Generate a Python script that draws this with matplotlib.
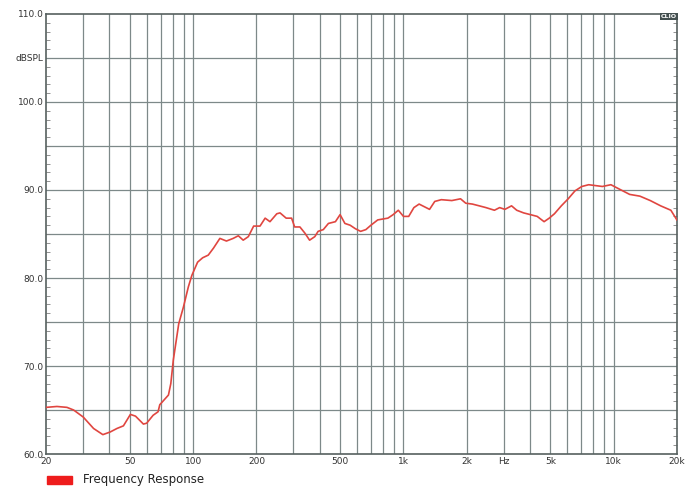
import numpy as np
import matplotlib.pyplot as plt
from matplotlib.patches import Rectangle
from matplotlib.ticker import FixedLocator, NullFormatter, MultipleLocator

# frequency response (Hz, dBSPL)
freq = [20, 22.5, 25.1, 27, 30, 33.6, 37.2, 40.3, 43.4, 46.6, 50.3, 53.2, 58, 60.1,
        64.5, 68.1, 69.4, 76.3, 78.3, 80.5, 85.4, 89.9, 94.9, 98.6, 105, 111, 118,
        125, 134, 144, 155, 164, 173, 183, 194, 208, 220, 232, 250, 259, 277, 294,
        304, 322, 340, 358, 379, 393, 416, 440, 475, 500, 527, 558, 591, 626, 663,
        701, 755, 797, 844, 894, 946, 1001, 1060, 1122, 1188, 1258, 1332, 1410,
        1515, 1700, 1870, 1980, 2130, 2295, 2470, 2710, 2870, 3040, 3270, 3460,
        3730, 4020, 4330, 4670, 4940, 5230, 5640, 6080, 6550, 7060, 7610, 8200,
        8840, 9710, 10260, 11060, 11920, 13340, 14940, 16740, 18720, 20000]
spl = [65.3, 65.4, 65.3, 65.0, 64.2, 62.9, 62.2, 62.5, 62.9, 63.2, 64.5, 64.3, 63.4,
       63.5, 64.4, 64.8, 65.6, 66.7, 68.0, 70.7, 74.8, 76.7, 79.0, 80.3, 81.8, 82.3,
       82.6, 83.4, 84.5, 84.2, 84.5, 84.8, 84.3, 84.7, 85.9, 85.9, 86.8, 86.4, 87.3,
       87.4, 86.8, 86.8, 85.8, 85.8, 85.1, 84.3, 84.7, 85.3, 85.5, 86.2, 86.4, 87.2,
       86.2, 86.0, 85.6, 85.3, 85.5, 86.0, 86.6, 86.7, 86.8, 87.2, 87.7, 87.0, 87.0,
       88.0, 88.4, 88.1, 87.8, 88.7, 88.9, 88.8, 89.0, 88.5, 88.4, 88.2, 88.0, 87.7,
       88.0, 87.8, 88.2, 87.7, 87.4, 87.2, 87.0, 86.4, 86.8, 87.3, 88.2, 89.0, 89.9,
       90.4, 90.6, 90.5, 90.4, 90.6, 90.3, 89.9, 89.5, 89.3, 88.8, 88.2, 87.7, 86.6]

xtick_pos = [20, 50, 100, 200, 500, 1000, 2000, 3000, 5000, 10000, 20000]
xtick_lab = ['20', '50', '100', '200', '500', '1k', '2k', 'Hz', '5k', '10k', '20k']
ytick_pos = [60, 70, 80, 90, 100, 105, 110]
ytick_lab = ['60.0', '70.0', '80.0', '90.0', '100.0', 'dBSPL', '110.0']

grid_col = '#7d8989'

fig = plt.figure(figsize=(7, 5), dpi=100)
ax = fig.add_axes([0.066, 0.092, 0.901, 0.88])

ax.plot(freq, spl, color='#e04640', lw=1.2, zorder=3)

ax.set_xscale('log')
ax.set_xlim(20, 20000)
ax.set_ylim(60, 110)

# vertical grid at every 1..9 step of each decade
vgrid = [m * 10 ** d for d in range(1, 5) for m in range(1, 10) if 20 < m * 10 ** d < 20000]
for v in vgrid:
    ax.axvline(v, color=grid_col, lw=0.9, zorder=1)
for h in range(65, 110, 5):
    ax.axhline(h, color=grid_col, lw=0.9, zorder=1)

ax.xaxis.set_major_locator(FixedLocator(xtick_pos))
ax.set_xticklabels(xtick_lab)
ax.xaxis.set_minor_locator(FixedLocator([]))
ax.xaxis.set_minor_formatter(NullFormatter())
ax.set_yticks(ytick_pos)
ax.set_yticklabels(ytick_lab)
ax.yaxis.set_minor_locator(MultipleLocator(1))

ax.tick_params(axis='x', which='major', length=0, pad=2, labelsize=6.5, labelcolor='#333333')
ax.tick_params(axis='y', which='major', length=0, pad=2, labelsize=6.5, labelcolor='#333333')
ax.tick_params(axis='y', which='minor', direction='in', length=3, width=0.6,
               color='#808080', left=True, right=True)

for s in ax.spines.values():
    s.set_color('#56605f')
    s.set_linewidth(1.2)

ax.text(1.0, 1.0, 'CLIO', transform=ax.transAxes, ha='right', va='top',
        fontsize=4.5, color='white', fontweight='bold',
        bbox=dict(boxstyle='square,pad=0.15', fc='#445050', ec='none'))

fig.add_artist(Rectangle((0.067, 0.032), 0.036, 0.017, transform=fig.transFigure,
                         color='#ee1c1c'))
fig.text(0.118, 0.04, 'Frequency Response', fontsize=8.5, va='center', color='#222222')

fig.savefig('out.png', dpi=100)
